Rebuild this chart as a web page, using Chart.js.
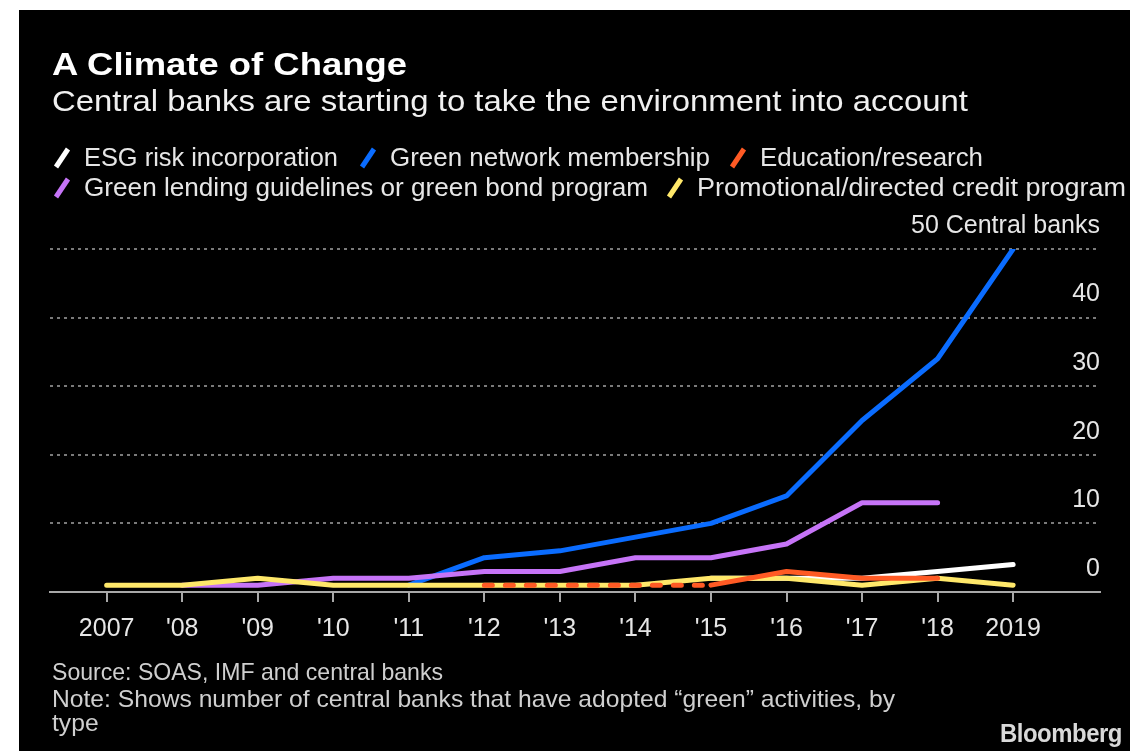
<!DOCTYPE html>
<html>
<head>
<meta charset="utf-8">
<script src="https://cdn.jsdelivr.net/npm/chart.js@4.4.0/dist/chart.umd.min.js"></script>
<style>
    html, body { margin: 0; padding: 0; background: #fff; width: 1130px; height: 751px; overflow: hidden; }
    #frame { position: absolute; left: 19px; top: 10px; width: 1111px; height: 741px; background: #000; }
    #chart { position: absolute; left: 0; top: 0; }
    .t {
        position: absolute; white-space: nowrap; line-height: 1;
        font-family: "Liberation Sans", Arial, sans-serif; color: #e6e6e6;
        transform-origin: 0 0;
    }
    .title { font-size: 31px; font-weight: bold; color: #fff; }
    .sub { font-size: 30px; color: #f0f0f0; }
    .leg { font-size: 25px; }
    .foot { font-size: 24px; color: #cfcfcf; }
    .note { line-height: 24px; }
    .logo { font-size: 25px; font-weight: bold; color: #d9d9d9; letter-spacing: -0.5px; }
    .mark { position: absolute; }
</style>
</head>
<body>
<div id="frame"></div>
<canvas id="chart" width="1130" height="751"></canvas>

<div class="t title" style="left:52px; top:49px" data-w="355">A Climate of Change</div>
<div class="t sub" style="left:52px; top:86px" data-w="916">Central banks are starting to take the environment into account</div>

<div id="legend"></div>

<div class="t foot" style="left:52px; top:660px" data-w="391">Source: SOAS, IMF and central banks</div>
<div class="t foot note" style="left:52px; top:687px" data-w="843">Note: Shows number of central banks that have adopted “green” activities, by<br>type</div>
<div class="t logo" style="left:1000px; top:721px" data-w="122">Bloomberg</div>

<script>
// Central banks adopting "green" activities, by type
const years = [2007, 2008, 2009, 2010, 2011, 2012, 2013, 2014, 2015, 2016, 2017, 2018, 2019];
const yearLabels = ['2007', "'08", "'09", "'10", "'11", "'12", "'13", "'14", "'15", "'16", "'17", "'18", '2019'];

const esgRisk       = [null, null, null, null, null, null, null, null, 2, 2, 2, 3, 4];
const greenNetwork  = [null, null, null, null, 1, 5, 6, 8, 10, 14, 25, 34, 50];
const education     = [null, null, null, null, null, 1, 1, 1, 1, 3, 2, 2, null];
const greenLending  = [null, 1, 1, 2, 2, 3, 3, 5, 5, 7, 13, 13, null];
const promotional   = [1, 1, 2, 1, 1, 1, 1, 1, 2, 2, 1, 2, 1];

const yTicks = [0, 10, 20, 30, 40, 50];

const seriesNames = [
    'ESG risk incorporation',
    'Green network membership',
    'Education/research',
    'Green lending guidelines or green bond program',
    'Promotional/directed credit program'
];
const seriesColors = ['#ffffff', '#0a6cff', '#ff5a24', '#c674f7', '#ffe86a'];

// years before this one are drawn dashed for the education series
const educationDashedUntil = 2015;

const FONT = '"Liberation Sans", Arial, sans-serif';

function points(values) {
    return years.map((yr, i) => ({ x: yr, y: values[i] }));
}

function lineSet(idx, values, order) {
    return {
        label: seriesNames[idx],
        data: points(values),
        borderColor: seriesColors[idx],
        backgroundColor: seriesColors[idx],
        borderWidth: 5,
        borderCapStyle: 'round',
        borderJoinStyle: 'round',
        pointRadius: 0,
        tension: 0,
        spanGaps: false,
        order: order
    };
}

const eduSet = lineSet(2, education, 1);
eduSet.segment = {
    borderDash: ctx => ctx.p0.parsed.x < educationDashedUntil ? [8, 13] : undefined
};

new Chart(document.getElementById('chart').getContext('2d'), {
    type: 'line',
    data: {
        datasets: [
            lineSet(0, esgRisk, 5),
            lineSet(1, greenNetwork, 4),
            eduSet,
            lineSet(3, greenLending, 3),
            lineSet(4, promotional, 2)
        ]
    },
    options: {
        responsive: false,
        animation: false,
        devicePixelRatio: 1,
        layout: { padding: { left: 50, right: 30, top: 249, bottom: 99 } },
        plugins: { legend: { display: false }, tooltip: { enabled: false } },
        scales: {
            x: {
                type: 'linear',
                min: 2006.25,
                max: 2020.15,
                afterBuildTicks: s => { s.ticks = years.map(v => ({ value: v })); },
                afterFit: s => { s.height = 60; },
                grid: {
                    drawOnChartArea: false,
                    drawTicks: true,
                    tickLength: 10,
                    color: '#a8a8a8',
                    lineWidth: 2
                },
                border: { display: true, color: '#a8a8a8', width: 2 },
                ticks: {
                    autoSkip: false,
                    maxRotation: 0,
                    padding: 12,
                    color: '#e6e6e6',
                    font: { family: FONT, size: 25 },
                    callback: v => yearLabels[years.indexOf(v)]
                }
            },
            y: {
                position: 'right',
                min: 0,
                max: 50,
                afterBuildTicks: s => { s.ticks = yTicks.map(v => ({ value: v })); },
                afterFit: s => { s.width = 0; },
                grid: {
                    drawTicks: false,
                    color: ctx => (ctx.tick && ctx.tick.value === 0) ? 'rgba(0,0,0,0)' : '#7a7a7a',
                    lineWidth: 2
                },
                border: { display: false, dash: [3, 4] },
                ticks: {
                    mirror: true,
                    padding: 0,
                    labelOffset: -23,
                    color: '#e6e6e6',
                    font: { family: FONT, size: 25 },
                    callback: v => v === 50 ? '50 Central banks' : String(v)
                }
            }
        }
    }
});

// HTML legend: two rows with slanted line markers
const legendItems = [
    { s: 0, left: 84,  top: 145, w: 254 },
    { s: 1, left: 390, top: 145, w: 320 },
    { s: 2, left: 760, top: 145, w: 223 },
    { s: 3, left: 84,  top: 175, w: 564 },
    { s: 4, left: 697, top: 175, w: 429 }
];
const legend = document.getElementById('legend');
legendItems.forEach(it => {
    const mark = document.createElementNS('http://www.w3.org/2000/svg', 'svg');
    mark.setAttribute('class', 'mark');
    mark.setAttribute('width', '18');
    mark.setAttribute('height', '24');
    mark.style.left = (it.left - 31) + 'px';
    mark.style.top = (it.top + 1) + 'px';
    const ln = document.createElementNS('http://www.w3.org/2000/svg', 'line');
    ln.setAttribute('x1', '3'); ln.setAttribute('y1', '21');
    ln.setAttribute('x2', '15'); ln.setAttribute('y2', '3');
    ln.setAttribute('stroke', seriesColors[it.s]);
    ln.setAttribute('stroke-width', '5');
    mark.appendChild(ln);
    legend.appendChild(mark);

    const txt = document.createElement('div');
    txt.className = 't leg';
    txt.style.left = it.left + 'px';
    txt.style.top = it.top + 'px';
    txt.dataset.w = it.w;
    txt.textContent = seriesNames[it.s];
    legend.appendChild(txt);
});

// squeeze texts horizontally to the widths seen in the reference
document.querySelectorAll('[data-w]').forEach(el => {
    const w = el.getBoundingClientRect().width;
    el.style.transform = 'scaleX(' + (el.dataset.w / w) + ')';
});
</script>
</body>
</html>
